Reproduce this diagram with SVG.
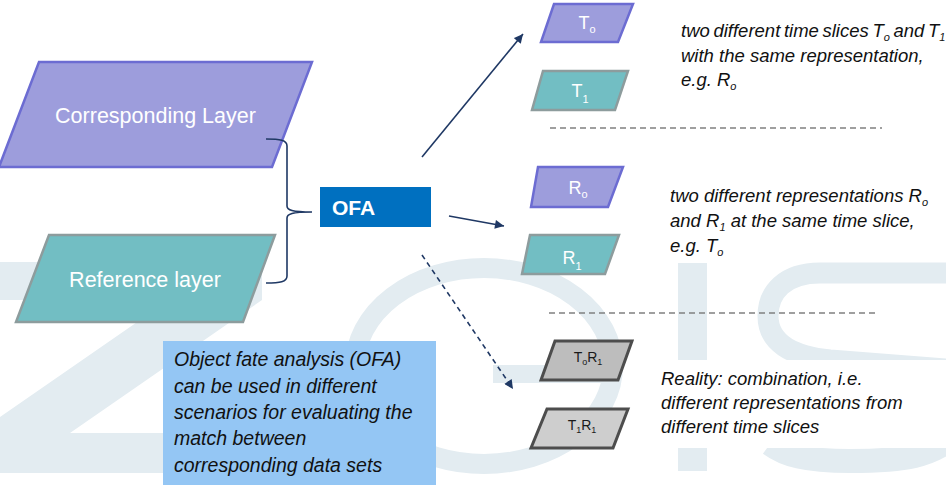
<svg xmlns="http://www.w3.org/2000/svg" width="946" height="493" viewBox="0 0 946 493">
<style>
.wm{fill:#e3ecf1;stroke:none}
.wms{fill:none;stroke:#e3ecf1}
.pur{fill:#9d9ddc;stroke:#6c6cd2;stroke-width:2.5}
.teal{fill:#72bec3;stroke:#8d9c9d;stroke-width:2.5}
.gray1{fill:#bdbdbd;stroke:#4d4d4d;stroke-width:3}
.gray2{fill:#cecece;stroke:#4d4d4d;stroke-width:3}
.lbl{font-family:"Liberation Sans",Arial,sans-serif;fill:#ffffff}
.small{font-family:"Liberation Sans",Arial,sans-serif;fill:#1a1a1a;font-size:14px}
.it{font-family:"Liberation Sans",Arial,sans-serif;font-style:italic;fill:#111111;font-size:18.5px}
.itb{font-family:"Liberation Sans",Arial,sans-serif;font-style:italic;fill:#111111;font-size:19.5px}
.conn{fill:none;stroke:#1f3864;stroke-width:1.6}
.sep{fill:none;stroke:#808080;stroke-width:1.5;stroke-dasharray:6 4}
</style>
<defs>
<marker id="ah" viewBox="0 0 10 10" refX="10" refY="5" markerWidth="10" markerHeight="9" markerUnits="userSpaceOnUse" orient="auto">
<path d="M0,0 L10,5 L0,10 z" fill="#1f3864"/>
</marker>
</defs>
<rect width="946" height="493" fill="#ffffff"/>
<g id="watermark">
<polygon class="wm" points="0,262 262,262 262,300 70,433 330,433 330,473 0,473 0,417 169,300 0,300"/>
<ellipse class="wms" cx="484" cy="366" rx="129" ry="98" stroke-width="20"/>
<rect class="wm" x="493" y="365" width="120" height="18"/>
<rect class="wm" x="678" y="263" width="29" height="208"/>
<path class="wms" stroke-width="21" d="M990 273 L820 273 C785 273 768 292 768 316 C768 342 790 356 830 360 L960 370"/>
<path class="wms" stroke-width="24" d="M960 430 C935 458 900 461 850 461 C805 461 785 455 770 444"/>
<rect x="650" y="360" width="296" height="88" fill="#ffffff"/>
</g>
<g id="corresponding-layer">
<polygon class="pur" points="39,62 312,62 272,167 -1,167"/>
<text class="lbl" x="155.5" y="123" font-size="21.5" text-anchor="middle">Corresponding Layer</text>
</g>
<g id="reference-layer">
<polygon class="teal" points="49,235 275,235 243,322 16,322"/>
<text class="lbl" x="145" y="287" font-size="21.5" text-anchor="middle">Reference layer</text>
</g>
<g id="ofa">
<rect x="320" y="187" width="111" height="40" fill="#0070c0"/>
<text class="lbl" x="332" y="215" font-size="21" font-weight="bold">OFA</text>
</g>
<g id="connectors">
<path class="conn" d="M266 139 C280 139 287 140 287 146 L287 206 C287 210 292 212 312 212 C292 212 287 214 287 218 L287 276 C287 282 280 283 266 283"/>
<line class="conn" x1="422" y1="157" x2="523" y2="34" marker-end="url(#ah)"/>
<line class="conn" x1="449" y1="216" x2="504" y2="226" marker-end="url(#ah)"/>
<line class="conn" x1="422" y1="255" x2="513" y2="389" stroke-dasharray="5 4" marker-end="url(#ah)"/>
<line class="sep" x1="550" y1="128" x2="882" y2="128"/>
<line class="sep" x1="549" y1="313" x2="878" y2="313"/>
</g>
<g id="t0">
<polygon class="pur" points="554,4 633,4 618,42 541,42"/>
<text class="lbl" x="587" y="29" font-size="18" text-anchor="middle">T<tspan font-size="11" dy="4">o</tspan></text>
</g>
<g id="t1">
<polygon class="teal" points="543,71 628,71 615,110 532,110"/>
<text class="lbl" x="580" y="97" font-size="18" text-anchor="middle">T<tspan font-size="11" dy="6">1</tspan></text>
</g>
<g id="r0">
<polygon class="pur" points="538,167 623,167 608,207 531,207"/>
<text class="lbl" x="578" y="194" font-size="18" text-anchor="middle">R<tspan font-size="11" dy="4">o</tspan></text>
</g>
<g id="r1">
<polygon class="teal" points="530,235 619,235 605,274 522,274"/>
<text class="lbl" x="572" y="264" font-size="18" text-anchor="middle">R<tspan font-size="11" dy="6">1</tspan></text>
</g>
<g id="t0r1">
<polygon class="gray1" points="555,341 632,341 618,380 541,380"/>
<text class="small" x="588" y="362" text-anchor="middle">T<tspan font-size="9" dy="3">o</tspan><tspan dy="-3">R</tspan><tspan font-size="9" dy="3">1</tspan></text>
</g>
<g id="t1r1">
<polygon class="gray2" points="547,409 628,409 613,448 531,448"/>
<text class="small" x="582" y="430" text-anchor="middle">T<tspan font-size="9" dy="3">1</tspan><tspan dy="-3">R</tspan><tspan font-size="9" dy="3">1</tspan></text>
</g>
<g id="note-time">
<text class="it" x="681" y="37" font-size="17" word-spacing="-1.5">two different time slices T<tspan font-size="11" dy="4">o</tspan><tspan dy="-4"> and T</tspan><tspan font-size="11" dy="4">1</tspan></text>
<text class="it" x="681" y="62">with the same representation,</text>
<text class="it" x="681" y="86">e.g. R<tspan font-size="11" dy="4">o</tspan></text>
</g>
<g id="note-repr">
<text class="it" x="670" y="202">two different representations R<tspan font-size="11" dy="4">o</tspan></text>
<text class="it" x="670" y="227">and R<tspan font-size="11" dy="4">1</tspan><tspan dy="-4"> at the same time slice,</tspan></text>
<text class="it" x="670" y="252">e.g. T<tspan font-size="11" dy="4">o</tspan></text>
</g>
<g id="note-reality">
<text class="it" x="661" y="385">Reality: combination, i.e.</text>
<text class="it" x="661" y="409">different representations from</text>
<text class="it" x="661" y="433">different time slices</text>
</g>
<g id="ofa-note">
<rect x="163" y="341" width="273" height="144" fill="#94c6f4"/>
<text class="itb" x="174" y="366">Object fate analysis (OFA)</text>
<text class="itb" x="174" y="393">can be used in different</text>
<text class="itb" x="174" y="419">scenarios for evaluating the</text>
<text class="itb" x="174" y="445">match between</text>
<text class="itb" x="174" y="472">corresponding data sets</text>
</g>
</svg>
